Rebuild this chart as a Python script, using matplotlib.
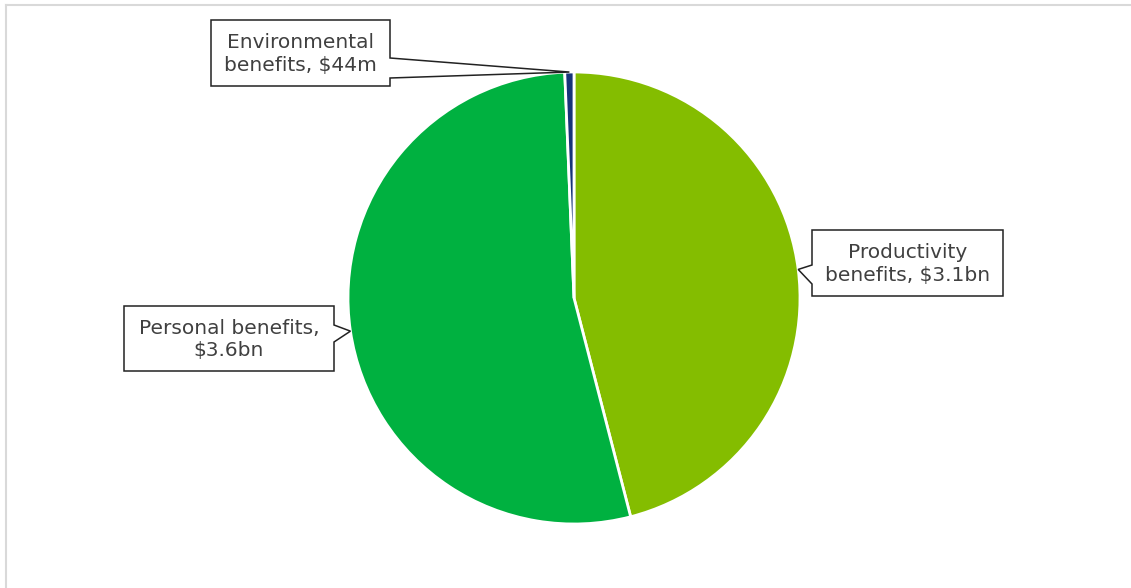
import numpy as np
import matplotlib.pyplot as plt
from matplotlib.patches import Polygon

# Benefit values ($m)
labels = ['Productivity\nbenefits, $3.1bn', 'Personal benefits,\n$3.6bn', 'Environmental\nbenefits, $44m']
values = [3100, 3600, 44]
colors = ['#84bd00', '#00b140', '#16347a']

# layout in pixels of the original picture
W, H = 1131, 588
cx, cy, R = 574, 298, 226

# callout boxes (left, top, right, bottom) and the side the pointer leaves from
boxes = [(812, 230, 1003, 296, 'left', 265, 284),
         (124, 306, 334, 371, 'right', 325, 342),
         (211, 20, 390, 86, 'right', 58, 78)]


def px(x, y):
    return ((x - cx) / R, (cy - y) / R)


fig = plt.figure(figsize=(W / 100, H / 100), dpi=100)
ax = fig.add_axes([0, 0, 1, 1])

wedges, _ = ax.pie(values, colors=colors, startangle=90, counterclock=False,
                   radius=1, center=(0, 0),
                   wedgeprops=dict(edgecolor='white', linewidth=2))

for w, lab, b in zip(wedges, labels, boxes):
    mid = np.deg2rad((w.theta1 + w.theta2) / 2)
    tip = (np.cos(mid), np.sin(mid))
    x0, y0, x1, y1, side, wa, wb = b
    if side == 'left':
        pts = [px(x0, y0), px(x1, y0), px(x1, y1), px(x0, y1),
               px(x0, wb), tip, px(x0, wa)]
    else:
        pts = [px(x0, y0), px(x1, y0), px(x1, wa), tip,
               px(x1, wb), px(x1, y1), px(x0, y1)]
    ax.add_patch(Polygon(pts, closed=True, facecolor='white',
                         edgecolor='#222222', linewidth=1.1, zorder=5))
    tx, ty = px((x0 + x1) / 2, (y0 + y1) / 2 + 1)
    ax.text(tx, ty, lab, ha='center', va='center', fontsize=14.5,
            color='#404040', family='DejaVu Sans', linespacing=1.2, zorder=6)

ax.set_aspect('auto')
ax.set_xlim(-cx / R, (W - cx) / R)
ax.set_ylim(-(H - cy) / R, cy / R)
ax.axis('off')

# light frame round the chart
fig.add_artist(plt.Line2D([6 / W, 6 / W], [0, 1 - 5 / H], transform=fig.transFigure,
                          color='#d9d9d9', lw=1.5))
fig.add_artist(plt.Line2D([6 / W, 1], [1 - 5 / H, 1 - 5 / H], transform=fig.transFigure,
                          color='#d9d9d9', lw=1.5))

fig.savefig('out.png', dpi=100)
